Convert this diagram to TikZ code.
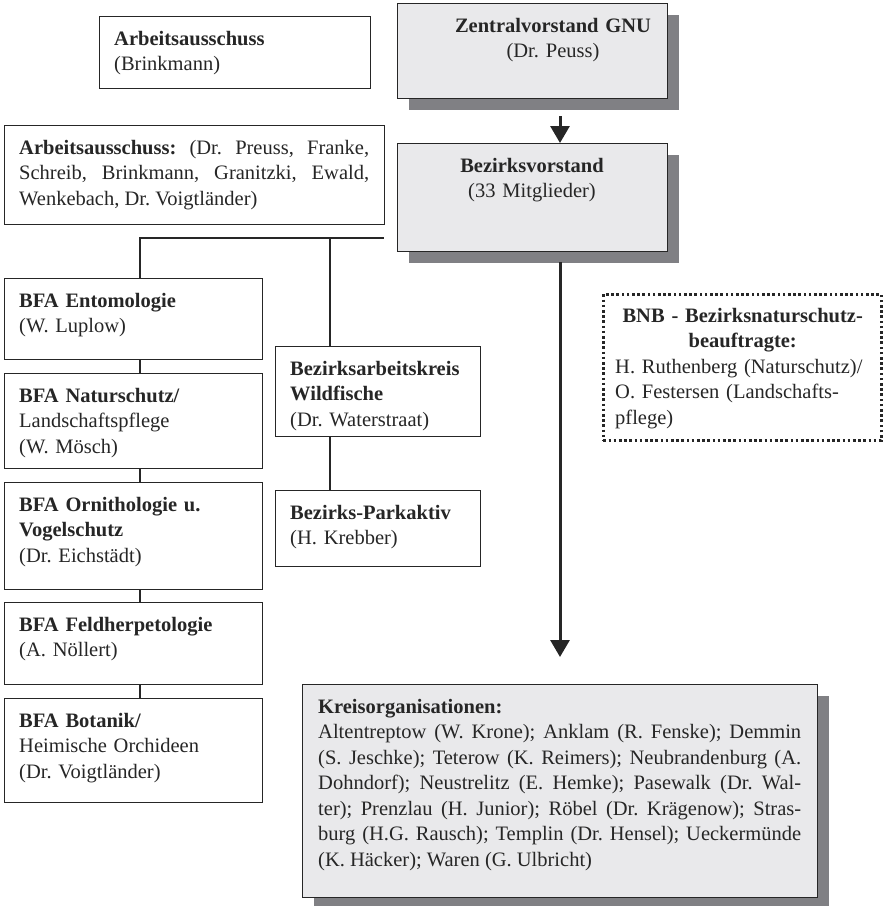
\documentclass[tikz,border=0pt]{standalone}
\usepackage{fontspec}
\setmainfont{Liberation Serif}
\usetikzlibrary{arrows.meta,shadows}
\definecolor{ink}{HTML}{262626}
\definecolor{boxfill}{HTML}{E9E9EB}
\definecolor{shade}{HTML}{808084}
\setlength{\parindent}{0pt}
\frenchspacing
\tolerance=9999
\hbadness=10000
\tikzset{
  boxline/.style={draw=ink, line width=1.3pt},
  wbox/.style={boxline, fill=white, inner sep=0pt, anchor=north west},
  gbox/.style={boxline, fill=boxfill, inner sep=0pt, anchor=north west,
    drop shadow={shadow xshift=11pt, shadow yshift=-11pt, fill=shade, opacity=1}},
  dbox/.style={draw=ink, line width=2.6pt, dash pattern=on 2.6pt off 2.6pt, fill=white, inner sep=0pt, anchor=north west},
  txt/.style={inner sep=0pt, anchor=north west, align=left, text=ink, font=\fontsize{20.5}{25.5}\selectfont},
  jtxt/.style={txt, align=justify},
  ctxt/.style={txt, anchor=north, align=center},
  conn/.style={draw=ink, line width=1.3pt},
  arr/.style={draw=ink, line width=3pt, -{Triangle[width=19pt,length=17pt]}}
}
\begin{document}
\begin{tikzpicture}[x=1pt,y=-1pt]
\useasboundingbox (0,0) rectangle (884,906);

% boxes
\node[wbox, minimum width=271pt, minimum height=72pt] (brink) at (99,16) {};
\node[txt, text width=241pt] (brink-t) at (114,31) {\textbf{Arbeitsausschuss}\\(Brinkmann)};

\node[gbox, minimum width=270pt, minimum height=95pt] (zentral) at (397,3) {};
\node[ctxt, text width=240pt] (zentral-t) at (553,18) {\textbf{Zentralvorstand GNU}\\(Dr. Peuss)};

\node[wbox, minimum width=380pt, minimum height=99pt] (arb) at (4,125) {};
\node[jtxt, text width=350pt] (arb-t) at (19,140) {\textbf{Arbeitsausschuss:} (Dr. Preuss, Franke,\linebreak Schreib, Brinkmann, Granitzki, Ewald,\linebreak Wenkebach, Dr. Voigtländer)};

\node[gbox, minimum width=270pt, minimum height=108pt] (bezirk) at (397,143) {};
\node[ctxt, text width=240pt] (bezirk-t) at (532,158) {\textbf{Bezirksvorstand}\\(33 Mitglieder)};

\node[wbox, minimum width=258pt, minimum height=81pt] (ento) at (4,278) {};
\node[txt, text width=228pt] (ento-t) at (19,293) {\textbf{BFA Entomologie}\\(W. Luplow)};

\node[wbox, minimum width=258pt, minimum height=95pt] (natur) at (4,373) {};
\node[txt, text width=228pt] (natur-t) at (19,388) {\textbf{BFA Naturschutz/}\\Landschaftspflege\\(W. Mösch)};

\node[wbox, minimum width=258pt, minimum height=107pt] (orni) at (4,482) {};
\node[txt, text width=228pt] (orni-t) at (19,497) {\textbf{BFA Ornithologie u.}\\\textbf{Vogelschutz}\\(Dr. Eichstädt)};

\node[wbox, minimum width=258pt, minimum height=82pt] (feld) at (4,602) {};
\node[txt, text width=228pt] (feld-t) at (19,617) {\textbf{BFA Feldherpetologie}\\(A. Nöllert)};

\node[wbox, minimum width=258pt, minimum height=104pt] (bota) at (4,698) {};
\node[txt, text width=228pt] (bota-t) at (19,713) {\textbf{BFA Botanik/}\\Heimische Orchideen\\(Dr. Voigtländer)};

\node[wbox, minimum width=205pt, minimum height=90pt] (wild) at (275,346) {};
\node[txt, text width=180pt] (wild-t) at (290,361) {\textbf{Bezirksarbeitskreis}\\\textbf{Wildfische}\\(Dr. Waterstraat)};

\node[wbox, minimum width=205pt, minimum height=76pt] (park) at (275,490) {};
\node[txt, text width=180pt] (park-t) at (290,505) {\textbf{Bezirks-Parkaktiv}\\(H. Krebber)};

\node[dbox, minimum width=278pt, minimum height=146pt] (bnb) at (602,293) {};
\node[txt, text width=255pt] (bnb-t) at (615,308) {{\centering\textbf{BNB - Bezirksnaturschutz-}\\\textbf{beauftragte:}\par}H. Ruthenberg (Naturschutz)/\\O. Festersen (Landschafts-\\pflege)};

\node[gbox, minimum width=515pt, minimum height=213pt] (kreis) at (302,684) {};
\node[jtxt, text width=483pt] (kreis-t) at (318,699) {\textbf{Kreisorganisationen:}\\Altentreptow (W. Krone); Anklam (R. Fenske); Demmin\linebreak (S. Jeschke); Teterow (K. Reimers); Neubrandenburg (A.\linebreak Dohndorf); Neustrelitz (E. Hemke); Pasewalk (Dr. Wal-\linebreak ter); Prenzlau (H. Junior); Röbel (Dr. Krägenow); Stras-\linebreak burg (H.G. Rausch); Templin (Dr. Hensel); Ueckermünde\linebreak (K. Häcker); Waren (G. Ulbricht)};

% connectors
\coordinate (j1) at (140,238);
\coordinate (j2) at (330,238);
\coordinate (jend) at (384,238);
\draw[conn] (j1 |- ento.north) -- (j1) -- (jend);
\draw[conn] (j2) -- (j2 |- wild.north);
\draw[conn] (j1 |- ento.south) -- (j1 |- natur.north);
\draw[conn] (j1 |- natur.south) -- (j1 |- orni.north);
\draw[conn] (j1 |- orni.south) -- (j1 |- feld.north);
\draw[conn] (j1 |- feld.south) -- (j1 |- bota.north);
\draw[conn] (j2 |- wild.south) -- (j2 |- park.north);

% arrows
\coordinate (a1) at (560,116);
\draw[arr] (a1) -- (a1 |- bezirk.north);
\coordinate (a2) at (560,262);
\coordinate (a2tip) at (560,657);
\draw[arr] (a2) -- (a2tip);
\end{tikzpicture}
\end{document}
